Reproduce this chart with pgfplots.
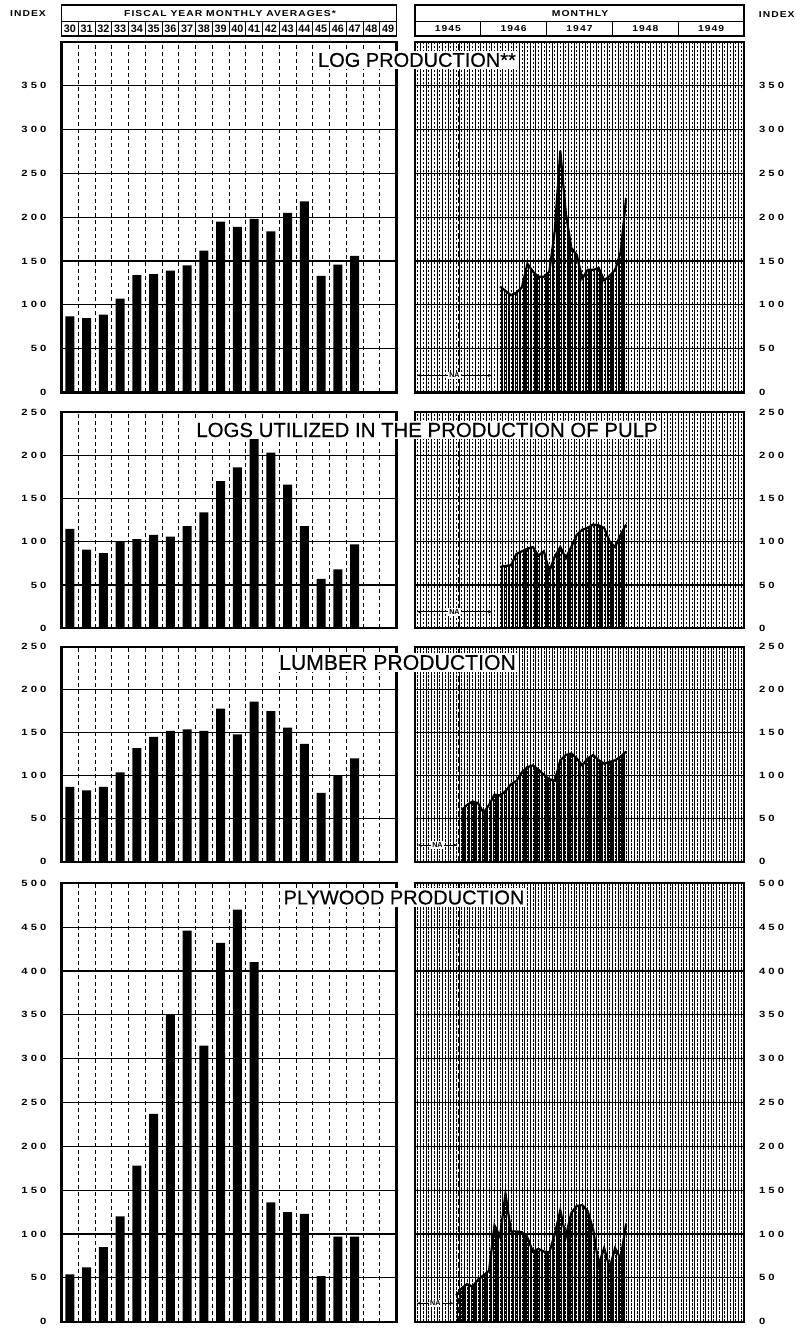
\documentclass[border=0pt]{standalone}
\usepackage{fontspec}
\setmainfont{Liberation Sans}
\newfontfamily\wide{Liberation Sans}[LetterSpace=35,FakeStretch=1.25]
\newfontfamily\widen{Liberation Sans}[LetterSpace=12,FakeStretch=1.2]
\newfontfamily\titlefont{Liberation Sans}[FakeBold=0.5]
\usepackage{pgfplots}
\pgfplotsset{compat=1.18}
\usetikzlibrary{patterns.meta,arrows.meta}
\newcommand\tl{\wide\bfseries\fontsize{4.5}{5}\selectfont}
\newcommand\hd{\widen\bfseries\fontsize{4.3}{5}\selectfont}
\newcommand\yrf{\bfseries\fontsize{5.4}{5.4}\selectfont}
\newcommand\ttl{\titlefont\fontsize{10}{12}\selectfont}

\tikzset{
  na/.style={{Stealth[length=2pt]}-{Stealth[length=2pt]}, line width=0.4pt},
  nalab/.style={fill=white, inner sep=0.6pt, font=\bfseries\fontsize{3.6}{4}\selectfont},
  vj/.style={dash pattern=on 3pt off 1.5pt, line width=0.8pt},
}
\pgfplotsset{
  common/.style={scale only axis, ymin=0, axis line style={line width=1.1pt},
    major tick length=0pt, minor tick length=0pt, xticklabels={},
    /pgf/number format/assume math mode=true,
    yticklabel style={font=\tl},
    y grid style={black, line width=0.6pt}, ymajorgrids},
  leftp/.style={common, width=167.5pt, xmin=-0.5, xmax=19.5,
    xtick={0.5,1.5,...,18.5}, xmajorgrids,
    x grid style={black, dash pattern=on 2pt off 1.5pt, line width=0.45pt},
    yticklabel style={anchor=east, xshift=-4pt}},
  rightp/.style={common, width=164.5pt, xmin=0, xmax=60,
    xtick={0,1,...,60}, minor x tick num=1, xmajorgrids, xminorgrids,
    x grid style={black, line width=0.35pt},
    minor grid style={dash pattern=on 1.2pt off 0.8pt, line width=0.3pt},
    yticklabel pos=right, yticklabel style={anchor=west, xshift=4pt}},
  bars/.style={ybar, bar width=4.5pt, fill=black, draw=none},
  hatch/.style={draw=none, pattern={Lines[angle=90,distance=1.37pt,line width=0.6pt]}},
  curve/.style={black, line width=1.1pt},
}

\begin{document}
\begin{tikzpicture}
\useasboundingbox (0pt,0pt) rectangle (398pt,664.5pt);

% ---------- Panel 1: Log production ----------
\begin{axis}[leftp, at={(30.75pt,468.25pt)}, anchor=south west, height=175.25pt, ymax=400, ytick={0,50,...,350}]
\addplot[bars] coordinates {(0,87)(1,85)(2,89)(3,107)(4,134)(5,135)(6,139)(7,145)(8,162)(9,195)(10,189)(11,198)(12,184)(13,205)(14,218)(15,133)(16,146)(17,156)};
\end{axis}
\begin{axis}[rightp, at={(207.5pt,468.25pt)}, anchor=south west, height=175.25pt, ymax=400, ytick={0,50,...,350}]
\addplot[hatch] coordinates {(15.5,121)(16.5,116)(17.5,111)(18.5,114)(19.5,120)(20.5,147)(21.5,138)(22.5,132)(23.5,132)(24.5,138)(25.5,185)(26.5,276)(27.5,205)(28.5,165)(29.5,157)(30.5,130)(31.5,140)(32.5,140)(33.5,142)(34.5,128)(35.5,133)(36.5,140)(37.5,160)(38.5,222)} \closedcycle;
\addplot[curve] coordinates {(15.5,121)(16.5,116)(17.5,111)(18.5,114)(19.5,120)(20.5,147)(21.5,138)(22.5,132)(23.5,132)(24.5,138)(25.5,185)(26.5,276)(27.5,205)(28.5,165)(29.5,157)(30.5,130)(31.5,140)(32.5,140)(33.5,142)(34.5,128)(35.5,133)(36.5,140)(37.5,160)(38.5,222)};
\draw[vj] (axis cs:8,0) -- (axis cs:8,400);
\draw[na] (axis cs:0.4,19.5) -- (axis cs:14,19.5) node[midway, nalab]{NA};
\end{axis}

% ---------- Panel 2: Pulp logs ----------
\begin{axis}[leftp, at={(30.75pt,350.35pt)}, anchor=south west, height=108.15pt, ymax=250, ytick={0,50,...,250}]
\addplot[bars] coordinates {(0,115)(1,91)(2,87)(3,100)(4,103)(5,108)(6,106)(7,118)(8,134)(9,170)(10,186)(11,234)(12,203)(13,166)(14,118)(15,57)(16,68)(17,97)};
\end{axis}
\begin{axis}[rightp, at={(207.5pt,350.35pt)}, anchor=south west, height=108.15pt, ymax=250, ytick={0,50,...,250}]
\addplot[hatch] coordinates {(15.5,71)(16.5,72)(17.5,73)(18.5,86)(19.5,89)(20.5,92)(21.5,94)(22.5,84)(23.5,89)(24.5,66)(25.5,83)(26.5,94)(27.5,81)(28.5,94)(29.5,108)(30.5,114)(31.5,116)(32.5,120)(33.5,119)(34.5,116)(35.5,100)(36.5,94)(37.5,108)(38.5,120)} \closedcycle;
\addplot[curve] coordinates {(15.5,71)(16.5,72)(17.5,73)(18.5,86)(19.5,89)(20.5,92)(21.5,94)(22.5,84)(23.5,89)(24.5,66)(25.5,83)(26.5,94)(27.5,81)(28.5,94)(29.5,108)(30.5,114)(31.5,116)(32.5,120)(33.5,119)(34.5,116)(35.5,100)(36.5,94)(37.5,108)(38.5,120)};
\draw[vj] (axis cs:8,0) -- (axis cs:8,250);
\draw[na] (axis cs:0.4,19) -- (axis cs:14,19) node[midway, nalab]{NA};
\end{axis}

% ---------- Panel 3: Lumber ----------
\begin{axis}[leftp, at={(30.75pt,233.65pt)}, anchor=south west, height=107.5pt, ymax=250, ytick={0,50,...,250}]
\addplot[bars] coordinates {(0,87)(1,83)(2,87)(3,104)(4,132)(5,145)(6,152)(7,154)(8,152)(9,178)(10,148)(11,186)(12,175)(13,156)(14,137)(15,80)(16,100)(17,120)};
\end{axis}
\begin{axis}[rightp, at={(207.5pt,233.65pt)}, anchor=south west, height=107.5pt, ymax=250, ytick={0,50,...,250}]
\addplot[hatch] coordinates {(8.5,60)(9.5,66)(10.5,70)(11.5,68)(12.5,57)(13.5,66)(14.5,78)(15.5,77)(16.5,82)(17.5,90)(18.5,94)(19.5,104)(20.5,110)(21.5,112)(22.5,107)(23.5,101)(24.5,96)(25.5,94)(26.5,118)(27.5,124)(28.5,126)(29.5,120)(30.5,112)(31.5,120)(32.5,124)(33.5,118)(34.5,114)(35.5,116)(36.5,118)(37.5,122)(38.5,128)} \closedcycle;
\addplot[curve] coordinates {(8.5,60)(9.5,66)(10.5,70)(11.5,68)(12.5,57)(13.5,66)(14.5,78)(15.5,77)(16.5,82)(17.5,90)(18.5,94)(19.5,104)(20.5,110)(21.5,112)(22.5,107)(23.5,101)(24.5,96)(25.5,94)(26.5,118)(27.5,124)(28.5,126)(29.5,120)(30.5,112)(31.5,120)(32.5,124)(33.5,118)(34.5,114)(35.5,116)(36.5,118)(37.5,122)(38.5,128)};
\draw[vj] (axis cs:8,0) -- (axis cs:8,250);
\draw[na] (axis cs:0.5,19.4) -- (axis cs:7.7,19.4) node[midway, nalab]{NA};
\end{axis}

% ---------- Panel 4: Plywood ----------
\begin{axis}[leftp, at={(30.75pt,3.65pt)}, anchor=south west, height=219.2pt, ymax=500, ytick={0,50,...,500}]
\addplot[bars] coordinates {(0,54)(1,62)(2,85)(3,120)(4,178)(5,237)(6,350)(7,446)(8,315)(9,432)(10,470)(11,410)(12,136)(13,125)(14,123)(15,52)(16,97)(17,97)};
\end{axis}
\begin{axis}[rightp, at={(207.5pt,3.65pt)}, anchor=south west, height=219.2pt, ymax=500, ytick={0,50,...,500}]
\addplot[hatch] coordinates {(7.5,30)(8.5,38)(9.5,43)(10.5,40)(11.5,48)(12.5,53)(13.5,58)(14.5,110)(15.5,97)(16.5,146)(17.5,103)(18.5,103)(19.5,102)(20.5,96)(21.5,80)(22.5,83)(23.5,80)(24.5,79)(25.5,100)(26.5,127)(27.5,97)(28.5,124)(29.5,132)(30.5,133)(31.5,126)(32.5,105)(33.5,65)(34.5,84)(35.5,61)(36.5,84)(37.5,72)(38.5,112)} \closedcycle;
\addplot[curve] coordinates {(7.5,30)(8.5,38)(9.5,43)(10.5,40)(11.5,48)(12.5,53)(13.5,58)(14.5,110)(15.5,97)(16.5,146)(17.5,103)(18.5,103)(19.5,102)(20.5,96)(21.5,80)(22.5,83)(23.5,80)(24.5,79)(25.5,100)(26.5,127)(27.5,97)(28.5,124)(29.5,132)(30.5,133)(31.5,126)(32.5,105)(33.5,65)(34.5,84)(35.5,61)(36.5,84)(37.5,72)(38.5,112)};
\draw[vj] (axis cs:8,0) -- (axis cs:8,500);
\draw[na] (axis cs:0.4,21) -- (axis cs:7,21) node[midway, nalab]{NA};
\end{axis}

% ---------- Headers ----------
\draw[line width=0.9pt] (30.75pt,662pt) rectangle (198.25pt,646.5pt);
\draw[line width=0.6pt] (30.75pt,653.75pt) -- (198.25pt,653.75pt);
\node[font=\hd] at (115pt,657.9pt) {FISCAL YEAR MONTHLY AVERAGES*};
\foreach \k in {1,...,19} {
  \draw[line width=0.4pt] ({30.75pt+\k*8.375pt},653.75pt) -- ({30.75pt+\k*8.375pt},646.5pt);
}
\foreach \k [evaluate=\k as \yr using int(30+\k)] in {0,...,19} {
  \node[font=\yrf, inner sep=0pt] at ({30.75pt+(\k+0.5)*8.375pt},650.1pt) {\yr};
}
\draw[line width=0.9pt] (207.5pt,662pt) rectangle (372pt,646.5pt);
\draw[line width=0.6pt] (207.5pt,653.75pt) -- (372pt,653.75pt);
\node[font=\hd] at (290pt,657.9pt) {MONTHLY};
\foreach \k in {1,...,4} {
  \draw[line width=0.6pt] ({207.5pt+\k*32.9pt},653.75pt) -- ({207.5pt+\k*32.9pt},646.5pt);
}
\foreach \k [evaluate=\k as \yr using int(1945+\k)] in {0,...,4} {
  \node[font=\hd, inner sep=0pt] at ({207.5pt+(\k+0.5)*32.9pt},650.1pt) {\yr};
}
\node[font=\hd] at (14pt,657.5pt) {INDEX};
\node[font=\hd, anchor=east, inner sep=0pt] at (397.5pt,657pt) {INDEX};

% ---------- Titles ----------
\node[fill=white, inner sep=1pt, font=\ttl] at (208.5pt,634.5pt) {LOG PRODUCTION**};
\node[fill=white, inner sep=1pt, font=\titlefont\fontsize{10.2}{12}\selectfont] at (213.5pt,449.5pt) {LOGS UTILIZED IN THE PRODUCTION OF PULP};
\node[fill=white, inner sep=1pt, font=\titlefont\fontsize{10.6}{12}\selectfont] at (198.75pt,333.25pt) {LUMBER PRODUCTION};
\node[fill=white, inner sep=1pt, font=\ttl] at (202pt,215.75pt) {PLYWOOD PRODUCTION};
\end{tikzpicture}
\end{document}
